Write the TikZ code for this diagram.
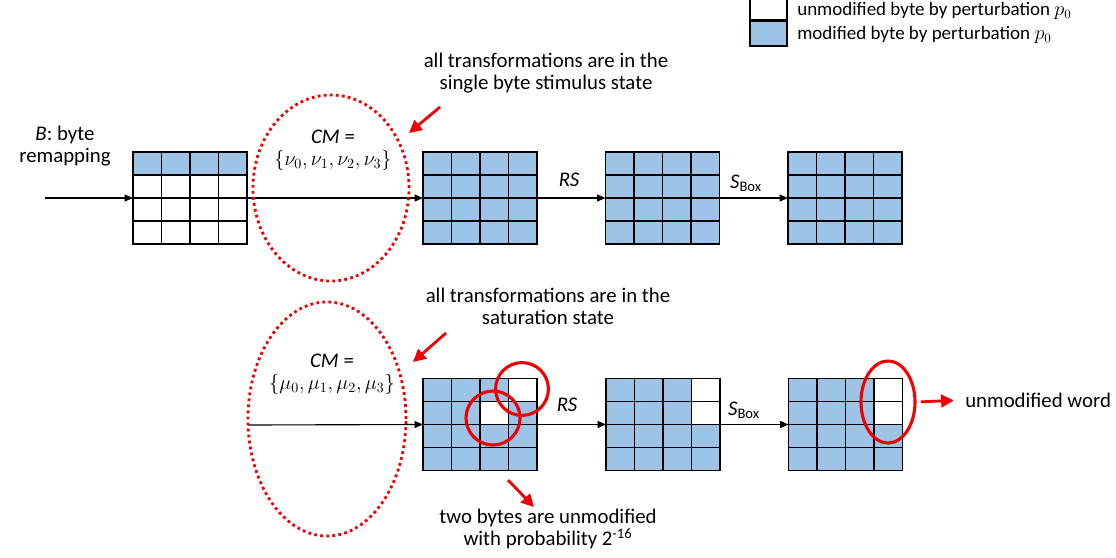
\documentclass[tikz,border=0pt]{standalone}
\usepackage{fontspec}
\setmainfont{Carlito}
\usetikzlibrary{calc,shapes.geometric,arrows.meta}
\definecolor{modcolor}{RGB}{157,195,230}
\definecolor{markcolor}{RGB}{240,0,0}

\tikzset{
  bytegrid/.style={draw, line width=0.8pt, minimum width=2.85cm, minimum height=2.3cm, inner sep=0pt, outer sep=0pt},
  flow/.style={-{Triangle[length=6pt,width=5pt]}, line width=0.8pt},
  redarrow/.style={-{Triangle[length=9pt,width=9pt]}, markcolor, line width=2pt},
  cmring/.style={ellipse, draw=markcolor, line width=2pt, dash pattern=on 2pt off 2.3pt, inner sep=0pt},
  hit/.style={draw=markcolor, line width=2.2pt, inner sep=0pt},
  txt/.style={align=center, inner sep=0pt},
  legtxt/.style={anchor=west, inner sep=0pt, font=\fontsize{13.5}{16}\selectfont}
}

% lines of a 4x4 byte state
\newcommand{\cellgrid}[1]{%
  \foreach \i in {1,2,3} {
    \draw[line width=0.8pt] ($(#1.north west)!\i/4!(#1.north east)$) -- ($(#1.south west)!\i/4!(#1.south east)$);
    \draw[line width=0.8pt] ($(#1.north west)!\i/4!(#1.south west)$) -- ($(#1.north east)!\i/4!(#1.south east)$);
  }
  \draw[line width=0.8pt] (#1.north west) rectangle (#1.south east);
}
% white byte: grid, column, row
\newcommand{\freebyte}[3]{%
  \fill[white] ($(#1.north west)+(#2*28.5,#3*23)$) rectangle +(28.5,23);
}

\begin{document}
\begin{tikzpicture}[x=0.025cm, y=-0.025cm, font=\fontsize{14.8}{15.8}\selectfont]
    \useasboundingbox (0,0) rectangle (1116,558);

    % Legend
    \node[bytegrid, fill=white, minimum width=0.925cm, minimum height=0.575cm] (legw) at (768.5,8.5) {};
    \node[bytegrid, fill=modcolor, minimum width=0.925cm, minimum height=0.625cm] (legm) at (768.5,33.5) {};
    \node[legtxt] (legwtxt) at (797,11) {unmodified byte by perturbation $p_0$};
    \node[legtxt] (legmtxt) at (797,35) {modified byte by perturbation $p_0$};

    % Top row
    \node[txt] (remap) at (65,146) {\textit{B}: byte\\remapping};
    \coordinate (tin) at (45,198);
    \node[bytegrid, fill=white] (t1) at (190,198) {};
    \fill[modcolor] (t1.north west) rectangle ($(t1.north east)+(0,23)$);
    \cellgrid{t1}
    \node[bytegrid, fill=modcolor] (t2) at (480,198) {};
    \cellgrid{t2}
    \node[bytegrid, fill=modcolor] (t3) at (662.5,198) {};
    \cellgrid{t3}
    \node[bytegrid, fill=modcolor] (t4) at (845,198) {};
    \cellgrid{t4}

    \draw[flow] (tin) -- (t1.west);
    \draw[flow] (t1.east) -- (t2.west);
    \draw[flow] (t2.east) -- (t3.west);
    \draw[flow] (t3.east) -- (t4.west);
    \node[txt] (rst) at (569,180) {\textit{RS}};
    \node[txt] (sboxt) at (746,183) {\textit{S}\textsubscript{Box}};

    \node[txt] (cmt) at (333,150) {\textit{CM} =\\$\{\nu_0,\nu_1,\nu_2,\nu_3\}$};
    \node[cmring, minimum width=3.9cm, minimum height=4.65cm] (ringt) at (331,188) {};

    \node[txt] (notet) at (546,73) {all transformations are in the\\single byte stimulus state};
    \coordinate (notetfrom) at (440,107);
    \coordinate (notetto) at (409,133);
    \draw[redarrow] (notetfrom) -- (notetto);

    % Bottom row
    \coordinate (bin) at (248,425);
    \node[bytegrid, fill=modcolor] (b1) at (480,424.5) {};
    \freebyte{b1}{3}{0}
    \freebyte{b1}{2}{1}
    \cellgrid{b1}
    \node[bytegrid, fill=modcolor] (b2) at (663,424.5) {};
    \freebyte{b2}{3}{0}
    \freebyte{b2}{3}{1}
    \cellgrid{b2}
    \node[bytegrid, fill=modcolor] (b3) at (845.5,424.5) {};
    \freebyte{b3}{3}{0}
    \freebyte{b3}{3}{1}
    \cellgrid{b3}

    \draw[flow] (bin) -- (b1.west);
    \draw[flow] (b1.east) -- (b2.west);
    \draw[flow] (b2.east) -- (b3.west);
    \node[txt] (rsb) at (567,405) {\textit{RS}};
    \node[txt] (sboxb) at (744,410) {\textit{S}\textsubscript{Box}};

    \node[txt] (cmb) at (332,374) {\textit{CM} =\\$\{\mu_0,\mu_1,\mu_2,\mu_3\}$};
    \node[cmring, minimum width=3.95cm, minimum height=5.85cm] (ringb) at (327,419) {};

    \node[txt] (noteb) at (548,306) {all transformations are in the\\saturation state};
    \coordinate (notebfrom) at (446,333);
    \coordinate (notebto) at (413,362);
    \draw[redarrow] (notebfrom) -- (notebto);

    % unmodified bytes
    \node[hit, circle, minimum size=1.32cm] (hitone) at (522,389) {};
    \node[hit, circle, minimum size=1.35cm] (hittwo) at (493,418) {};
    \node[hit, ellipse, minimum width=1.35cm, minimum height=2.05cm] (word) at (888,402) {};

    \node[txt] (prob) at (548,529) {two bytes are unmodified\\with probability 2\textsuperscript{-16}};
    \coordinate (probfrom) at (508,480);
    \coordinate (probto) at (534,507);
    \draw[redarrow] (probfrom) -- (probto);

    \node[txt, anchor=west] (wordtxt) at (965,400) {unmodified word};
    \draw[redarrow, shorten <=3pt, shorten >=8pt] (word.east) -- (wordtxt.west);
\end{tikzpicture}
\end{document}
